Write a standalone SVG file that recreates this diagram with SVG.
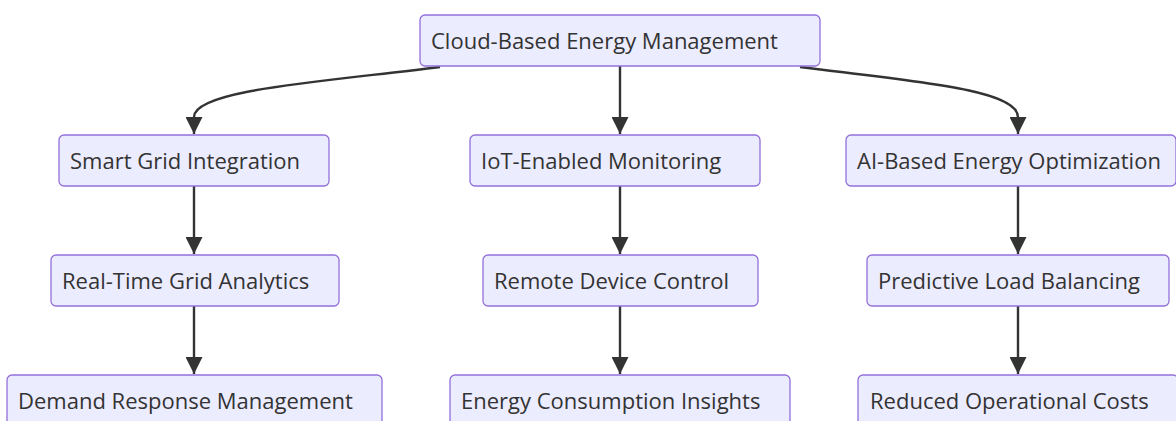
<svg xmlns="http://www.w3.org/2000/svg" width="1176" height="421" viewBox="0 0 1176 421">
  <defs>
    <style>
      .node rect { fill: #ECECFF; stroke: #9370DB; stroke-width: 1.3; }
      .node text { font-family: "Open Sans", "Noto Sans", "Liberation Sans", sans-serif; font-size: 22px; fill: #333333; }
      .edge { fill: none; stroke: #333333; stroke-width: 2.4; }
    </style>
    <!-- tip sits exactly on the path end -->
    <marker id="arrow" viewBox="0 0 17 17" refX="17" refY="8.5" markerWidth="17" markerHeight="17" markerUnits="userSpaceOnUse" orient="auto">
      <path d="M0,0 L17,8.5 L0,17 z" fill="#333333"/>
    </marker>
  </defs>
  <rect width="1176" height="421" fill="#ffffff"/>

  <g id="edges">
    <path class="edge" d="M440,67 C320,82 194,90 194,117 L194,134" marker-end="url(#arrow)"/>
    <path class="edge" d="M620,66 L620,134" marker-end="url(#arrow)"/>
    <path class="edge" d="M800,67 C920,82 1018,90 1018,117 L1018,134" marker-end="url(#arrow)"/>
    <path class="edge" d="M194,186 L194,254" marker-end="url(#arrow)"/>
    <path class="edge" d="M620,186 L620,254" marker-end="url(#arrow)"/>
    <path class="edge" d="M1018,186 L1018,254" marker-end="url(#arrow)"/>
    <path class="edge" d="M194,306 L194,374" marker-end="url(#arrow)"/>
    <path class="edge" d="M620,306 L620,374" marker-end="url(#arrow)"/>
    <path class="edge" d="M1018,306 L1018,374" marker-end="url(#arrow)"/>
  </g>

  <g id="cloud" class="node">
    <rect x="420" y="15" width="400" height="51" rx="5"/>
    <text x="431" y="49">Cloud-Based Energy Management</text>
  </g>
  <g id="smartgrid" class="node">
    <rect x="59" y="135" width="270" height="51" rx="5"/>
    <text x="70" y="169">Smart Grid Integration</text>
  </g>
  <g id="iot" class="node">
    <rect x="470" y="135" width="290" height="51" rx="5"/>
    <text x="481" y="169">IoT-Enabled Monitoring</text>
  </g>
  <g id="ai" class="node">
    <rect x="846" y="135" width="330" height="51" rx="5"/>
    <text x="857" y="169">AI-Based Energy Optimization</text>
  </g>
  <g id="realtime" class="node">
    <rect x="51" y="255" width="288" height="51" rx="5"/>
    <text x="62" y="289">Real-Time Grid Analytics</text>
  </g>
  <g id="remote" class="node">
    <rect x="483" y="255" width="275" height="51" rx="5"/>
    <text x="494" y="289">Remote Device Control</text>
  </g>
  <g id="predictive" class="node">
    <rect x="867" y="255" width="302" height="51" rx="5"/>
    <text x="878" y="289">Predictive Load Balancing</text>
  </g>
  <g id="demand" class="node">
    <rect x="7" y="375" width="375" height="51" rx="5"/>
    <text x="18" y="409">Demand Response Management</text>
  </g>
  <g id="insights" class="node">
    <rect x="450" y="375" width="340" height="51" rx="5"/>
    <text x="461" y="409">Energy Consumption Insights</text>
  </g>
  <g id="costs" class="node">
    <rect x="858" y="375" width="320" height="51" rx="5"/>
    <text x="870" y="409">Reduced Operational Costs</text>
  </g>
</svg>
